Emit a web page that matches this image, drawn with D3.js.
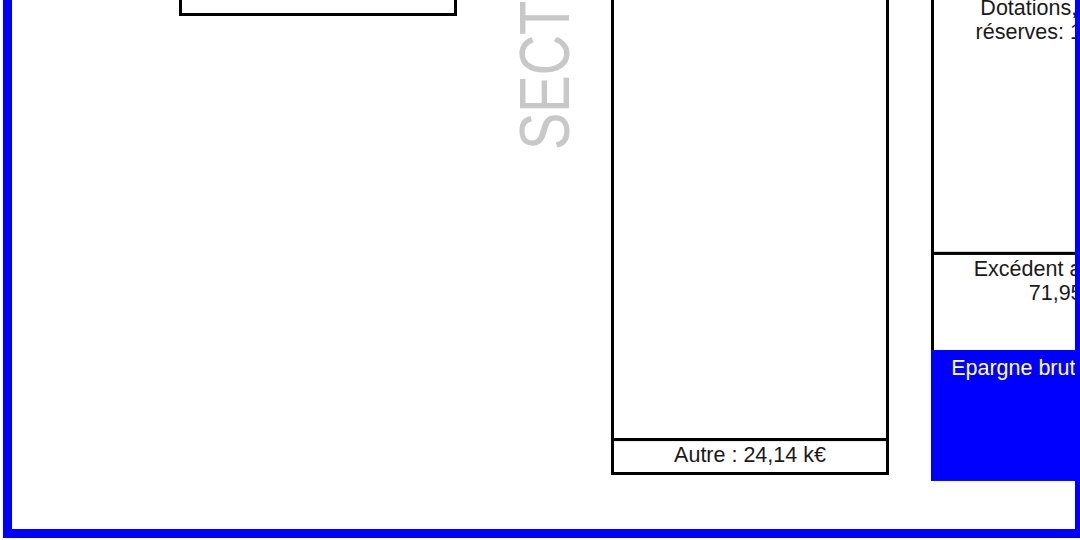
<!DOCTYPE html>
<html>
<head>
<meta charset="utf-8">
<script src="https://cdn.jsdelivr.net/npm/d3@7"></script>
<style>
  html, body { margin: 0; padding: 0; background: #fff; }
  svg { display: block; }
  text { font-family: "Liberation Sans", Arial, sans-serif; }
</style>
</head>
<body>
<svg id="chart" width="1080" height="540"></svg>
<script>
// ----- data (k€) -----
var gaucheLines = [['Dépenses d\'investissement :', '']];
var gaucheValues = [250.00];

var depensesLines = [['Charges de fonctionnement :', ''], ['Autre : ']];
var depensesValues = [360.00, 24.14];

var recettesLines = [['Dotations, fonds et', 'réserves: '], ['Excédent antérieur :', '']];
var recettesValues = [185.76, 71.95];

var epargneLines = [['Epargne brute : ']];
var epargneValues = [93.20];

var sectionTitle = 'SECTION DE FONCTIONNEMENT';

// ----- layout -----
var colWidth = 275;
var lineH = 24.5;
var fontSize = 21.5;

var fr = d3.formatLocale({decimal: ',', thousands: ' ', grouping: [3], currency: ['', ' k€']});
var fmt = fr.format('$,.2f');

// pixels per k€
var y = d3.scaleLinear().domain([0, 100]).range([0, 140.5]);

var svg = d3.select('#chart');

// Builds a stacked column, listed from top to bottom, ending at bottomY
function column(lines, values, x, bottomY) {
  var total = d3.sum(values);
  var acc = bottomY - y(total);
  var segs = [];
  values.forEach(function(v, i) {
    segs.push({y0: acc, h: y(v), v: v, lines: lines[i]});
    acc += y(v);
  });

  var g = svg.append('g').attr('class', 'column');

  g.selectAll('rect')
    .data(segs)
    .enter().append('rect')
    .attr('x', x)
    .attr('y', function(d) { return d.y0; })
    .attr('width', colWidth)
    .attr('height', function(d) { return d.h; })
    .attr('fill', '#fff')
    .attr('stroke', '#000')
    .attr('stroke-width', 3);

  var t = g.selectAll('text')
    .data(segs)
    .enter().append('text')
    .attr('text-anchor', 'middle')
    .attr('font-size', fontSize)
    .attr('fill', '#1a1a1a');

  t.each(function(d) {
    var el = d3.select(this);
    d.lines.forEach(function(l, j) {
      var txt = l;
      // value goes on the last line
      if (j === d.lines.length - 1) txt = l + fmt(d.v);
      el.append('tspan')
        .attr('x', x + colWidth / 2)
        .attr('y', d.y0 + 22.5 + j * lineH)
        .text(txt);
    });
  });
  return g;
}

// Left column (bottom visible only)
column(gaucheLines, gaucheValues, 180.5, 14.5);

// Middle column : dépenses
column(depensesLines, depensesValues, 612.5, 473.5);

// Right column : recettes
column(recettesLines, recettesValues, 932.5, 354.5);

// Epargne brute, blue block under the recettes
var epTop = 350;
var eg = svg.append('g');
eg.selectAll('rect')
  .data(epargneValues)
  .enter().append('rect')
  .attr('x', 931)
  .attr('y', epTop)
  .attr('width', colWidth)
  .attr('height', function(d) { return y(d); })
  .attr('fill', '#0000ff');
eg.selectAll('text')
  .data(epargneValues)
  .enter().append('text')
  .attr('x', 931 + colWidth / 2 + 1)
  .attr('y', epTop + 25)
  .attr('text-anchor', 'middle')
  .attr('font-size', fontSize)
  .attr('fill', '#fff')
  .text(function(d, i) { return epargneLines[i][0] + fmt(d); });

// Section title, rotated and a bit condensed
svg.append('text')
  .attr('transform', 'translate(569,150) rotate(-90) scale(0.8,1)')
  .attr('text-anchor', 'start')
  .attr('font-size', 70)
  .attr('font-family', 'Roboto, "Liberation Sans", sans-serif')
  .attr('font-weight', 300)
  .attr('fill', '#c8c8c8')
  .text(sectionTitle);

// Blue frame round the whole section
svg.append('rect')
  .attr('x', 7.5)
  .attr('y', -300)
  .attr('width', 1072)
  .attr('height', 833.5)
  .attr('fill', 'none')
  .attr('stroke', '#0000ff')
  .attr('stroke-width', 9);
</script>
</body>
</html>
